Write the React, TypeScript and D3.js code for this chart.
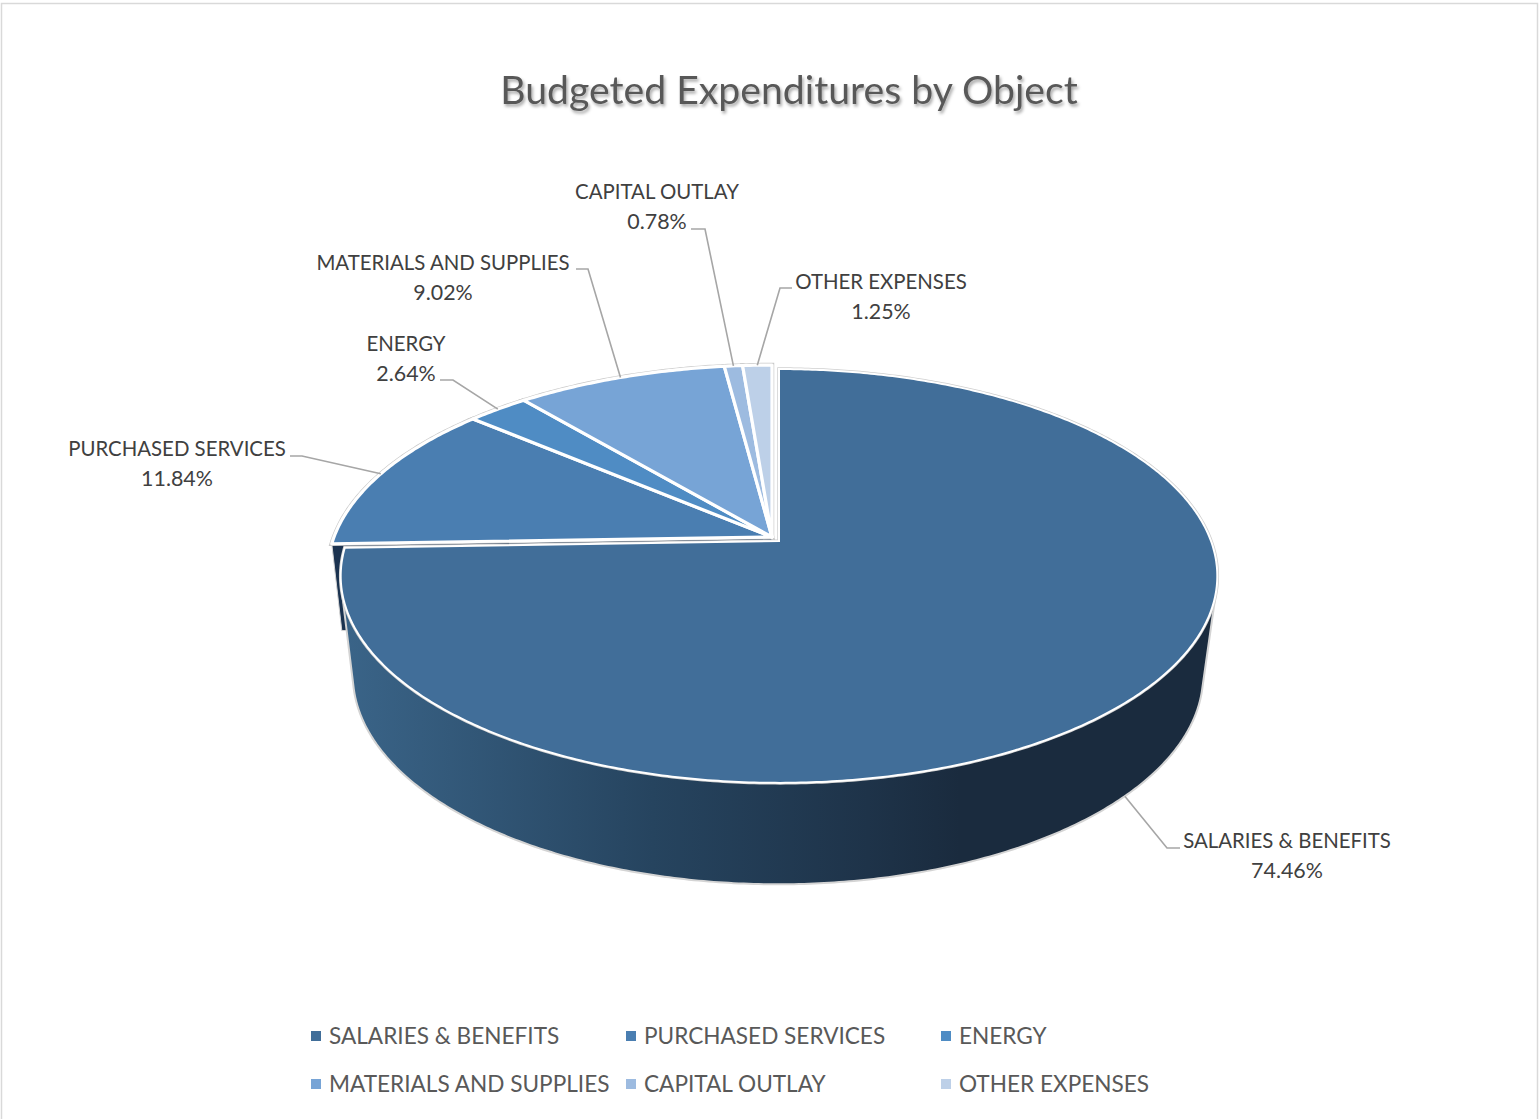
import * as d3 from "d3";

const WIDTH = 1539;
const HEIGHT = 1119;

const CATEGORIES = ["SALARIES & BENEFITS", "PURCHASED SERVICES", "ENERGY", "MATERIALS AND SUPPLIES", "CAPITAL OUTLAY", "OTHER EXPENSES"];
const VALUES = [74.46, 11.84, 2.64, 9.02, 0.78, 1.25];
const COLORS = ["#416e99", "#4a7eb1", "#4f8cc4", "#77a4d6", "#9dbbe0", "#bdd0e8"];

// where each data label sits, and the elbow of its leader
const LABEL_LAYOUT = [
  { x: 1287, y: 848, elbow: [[1180, 848], [1167, 848]] },
  { x: 177, y: 456, elbow: [[290, 456], [302, 456]] },
  { x: 406, y: 351, elbow: [[440, 380], [453, 380]] },
  { x: 443, y: 270, elbow: [[576, 269], [588, 269]] },
  { x: 657, y: 199, elbow: [[691, 229], [705, 229]] },
  { x: 881, y: 289, elbow: [[792, 288], [780, 288]] },
];

const LEGEND_X = [311, 626, 941];
const LEGEND_Y = [1036, 1084];

const FONT = "Lato, 'Open Sans', sans-serif";
const PERSPECTIVE = 0.169;

interface Plane { cx: number; cy: number; a: number; b: number }

const SALARY_TOP: Plane = { cx: 779, cy: 541, a: 432, b: 201 };
const SALARY_BOTTOM: Plane = { cx: 778, cy: 640, a: 419, b: 203 };
const REST_TOP: Plane = { cx: 772, cy: 537, a: 438, b: 201 };
const REST_BOTTOM: Plane = { cx: 771, cy: 624, a: 427, b: 196 };

// angle is clockwise from 12 o'clock, the far side of the disc is foreshortened
function project(p: Plane, angle: number): [number, number] {
  const u = Math.sin(angle);
  const v = Math.cos(angle);
  const s = 1 / (1 + PERSPECTIVE * v);
  return [p.cx + p.a * u * s, p.cy - p.b * v * s];
}

function arcPoints(p: Plane, a0: number, a1: number): [number, number][] {
  const steps = Math.max(2, Math.ceil(Math.abs(a1 - a0) / 0.01));
  const t = d3.scaleLinear().domain([0, steps]).range([a0, a1]);
  return d3.range(steps + 1).map((i) => project(p, t(i)));
}

const line = d3.line<[number, number]>();

function slicePath(p: Plane, a0: number, a1: number): string {
  return line([[p.cx, p.cy], ...arcPoints(p, a0, a1)])! + "Z";
}

export default function App() {
  const arcs = d3.pie<number>().sort(null)(VALUES);
  const salaries = arcs[0];
  const rest = arcs.slice(1);
  const restColors = COLORS.slice(1);

  // wall of the salaries slice: outline of both rims along the front
  const hull = d3.polygonHull([
    ...arcPoints(SALARY_TOP, Math.PI * 0.5, salaries.endAngle),
    ...arcPoints(SALARY_BOTTOM, Math.PI * 0.5, salaries.endAngle),
  ])!;
  const wallPath = line(hull)! + "Z";

  // cut face of the slices left behind, shows in the gap
  const cutAngle = rest[0].startAngle;
  const cutPath = line([
    [REST_TOP.cx, REST_TOP.cy],
    project(REST_TOP, cutAngle),
    project(REST_BOTTOM, cutAngle),
    [REST_BOTTOM.cx, REST_BOTTOM.cy],
  ])! + "Z";

  const restPaths = rest.map((d) => slicePath(REST_TOP, d.startAngle, d.endAngle));
  const salaryPath = slicePath(SALARY_TOP, salaries.startAngle, salaries.endAngle);

  const anchors = arcs.map((d, i) => {
    const mid = (d.startAngle + d.endAngle) / 2;
    return i === 0 ? project(SALARY_BOTTOM, mid - 0.02) : project(REST_TOP, mid);
  });

  return (
    <svg width={WIDTH} height={HEIGHT} viewBox={`0 0 ${WIDTH} ${HEIGHT}`}
      style={{ position: "absolute", left: 0, top: 0, display: "block", background: "#fff" }}>
      <defs>
        <linearGradient id="wall" gradientUnits="userSpaceOnUse" x1={345} x2={960} y1={0} y2={0}>
          <stop offset="0" stopColor="#3a6488" />
          <stop offset="0.5" stopColor="#26445f" />
          <stop offset="0.85" stopColor="#1e3349" />
          <stop offset="1" stopColor="#1a2b3e" />
        </linearGradient>
        <filter id="titleShadow" x="-5%" y="-30%" width="110%" height="170%">
          <feDropShadow dx={1.5} dy={2.5} stdDeviation={1.6} floodColor="#000" floodOpacity={0.35} />
        </filter>
      </defs>

      <path d={`M1.5,${HEIGHT}V3.5H1537.5V${HEIGHT}`} fill="none" stroke="#d9d9d9" strokeWidth={1.5} />

      <text x={789} y={104} textAnchor="middle" fontFamily={FONT} fontSize={39.2} fill="#595959"
        filter="url(#titleShadow)">Budgeted Expenditures by Object</text>

      <path d={cutPath} fill="#1b3350" stroke="#d4d4d4" strokeWidth={1} />
      <path d={wallPath} fill="url(#wall)" stroke="#d4d4d4" strokeWidth={2} />

      {restPaths.map((d, i) => (
        <path key={i} d={d} fill="none" stroke="#c9c9c9" strokeWidth={4.5} />
      ))}
      {restPaths.map((d, i) => (
        <path key={i} d={d} fill={restColors[i]} stroke="#fff" strokeWidth={3.2} strokeLinejoin="round" />
      ))}

      <path d={salaryPath} fill="none" stroke="#cfcfcf" strokeWidth={3.5} />
      <path d={salaryPath} fill={COLORS[0]} stroke="#fff" strokeWidth={2} />

      {CATEGORIES.map((name, i) => {
        const l = LABEL_LAYOUT[i];
        const pts = [...l.elbow, anchors[i]] as [number, number][];
        return (
          <g key={name}>
            <path d={line(pts)!} fill="none" stroke="#a6a6a6" strokeWidth={1.6} />
            <text textAnchor="middle" fontFamily={FONT} fontSize={20.4} fill="#404040">
              <tspan x={l.x} y={l.y}>{name}</tspan>
              <tspan x={l.x} dy={29.5} fontSize={21.4}>{VALUES[i].toFixed(2)}%</tspan>
            </text>
          </g>
        );
      })}

      {CATEGORIES.map((name, i) => {
        const x = LEGEND_X[i % 3];
        const y = LEGEND_Y[Math.floor(i / 3)];
        return (
          <g key={name}>
            <rect x={x} y={y - 5} width={10} height={10} fill={COLORS[i]} />
            <text x={x + 18} y={y + 8} fontFamily={FONT} fontSize={22.6} fill="#595959">{name}</text>
          </g>
        );
      })}
    </svg>
  );
}
